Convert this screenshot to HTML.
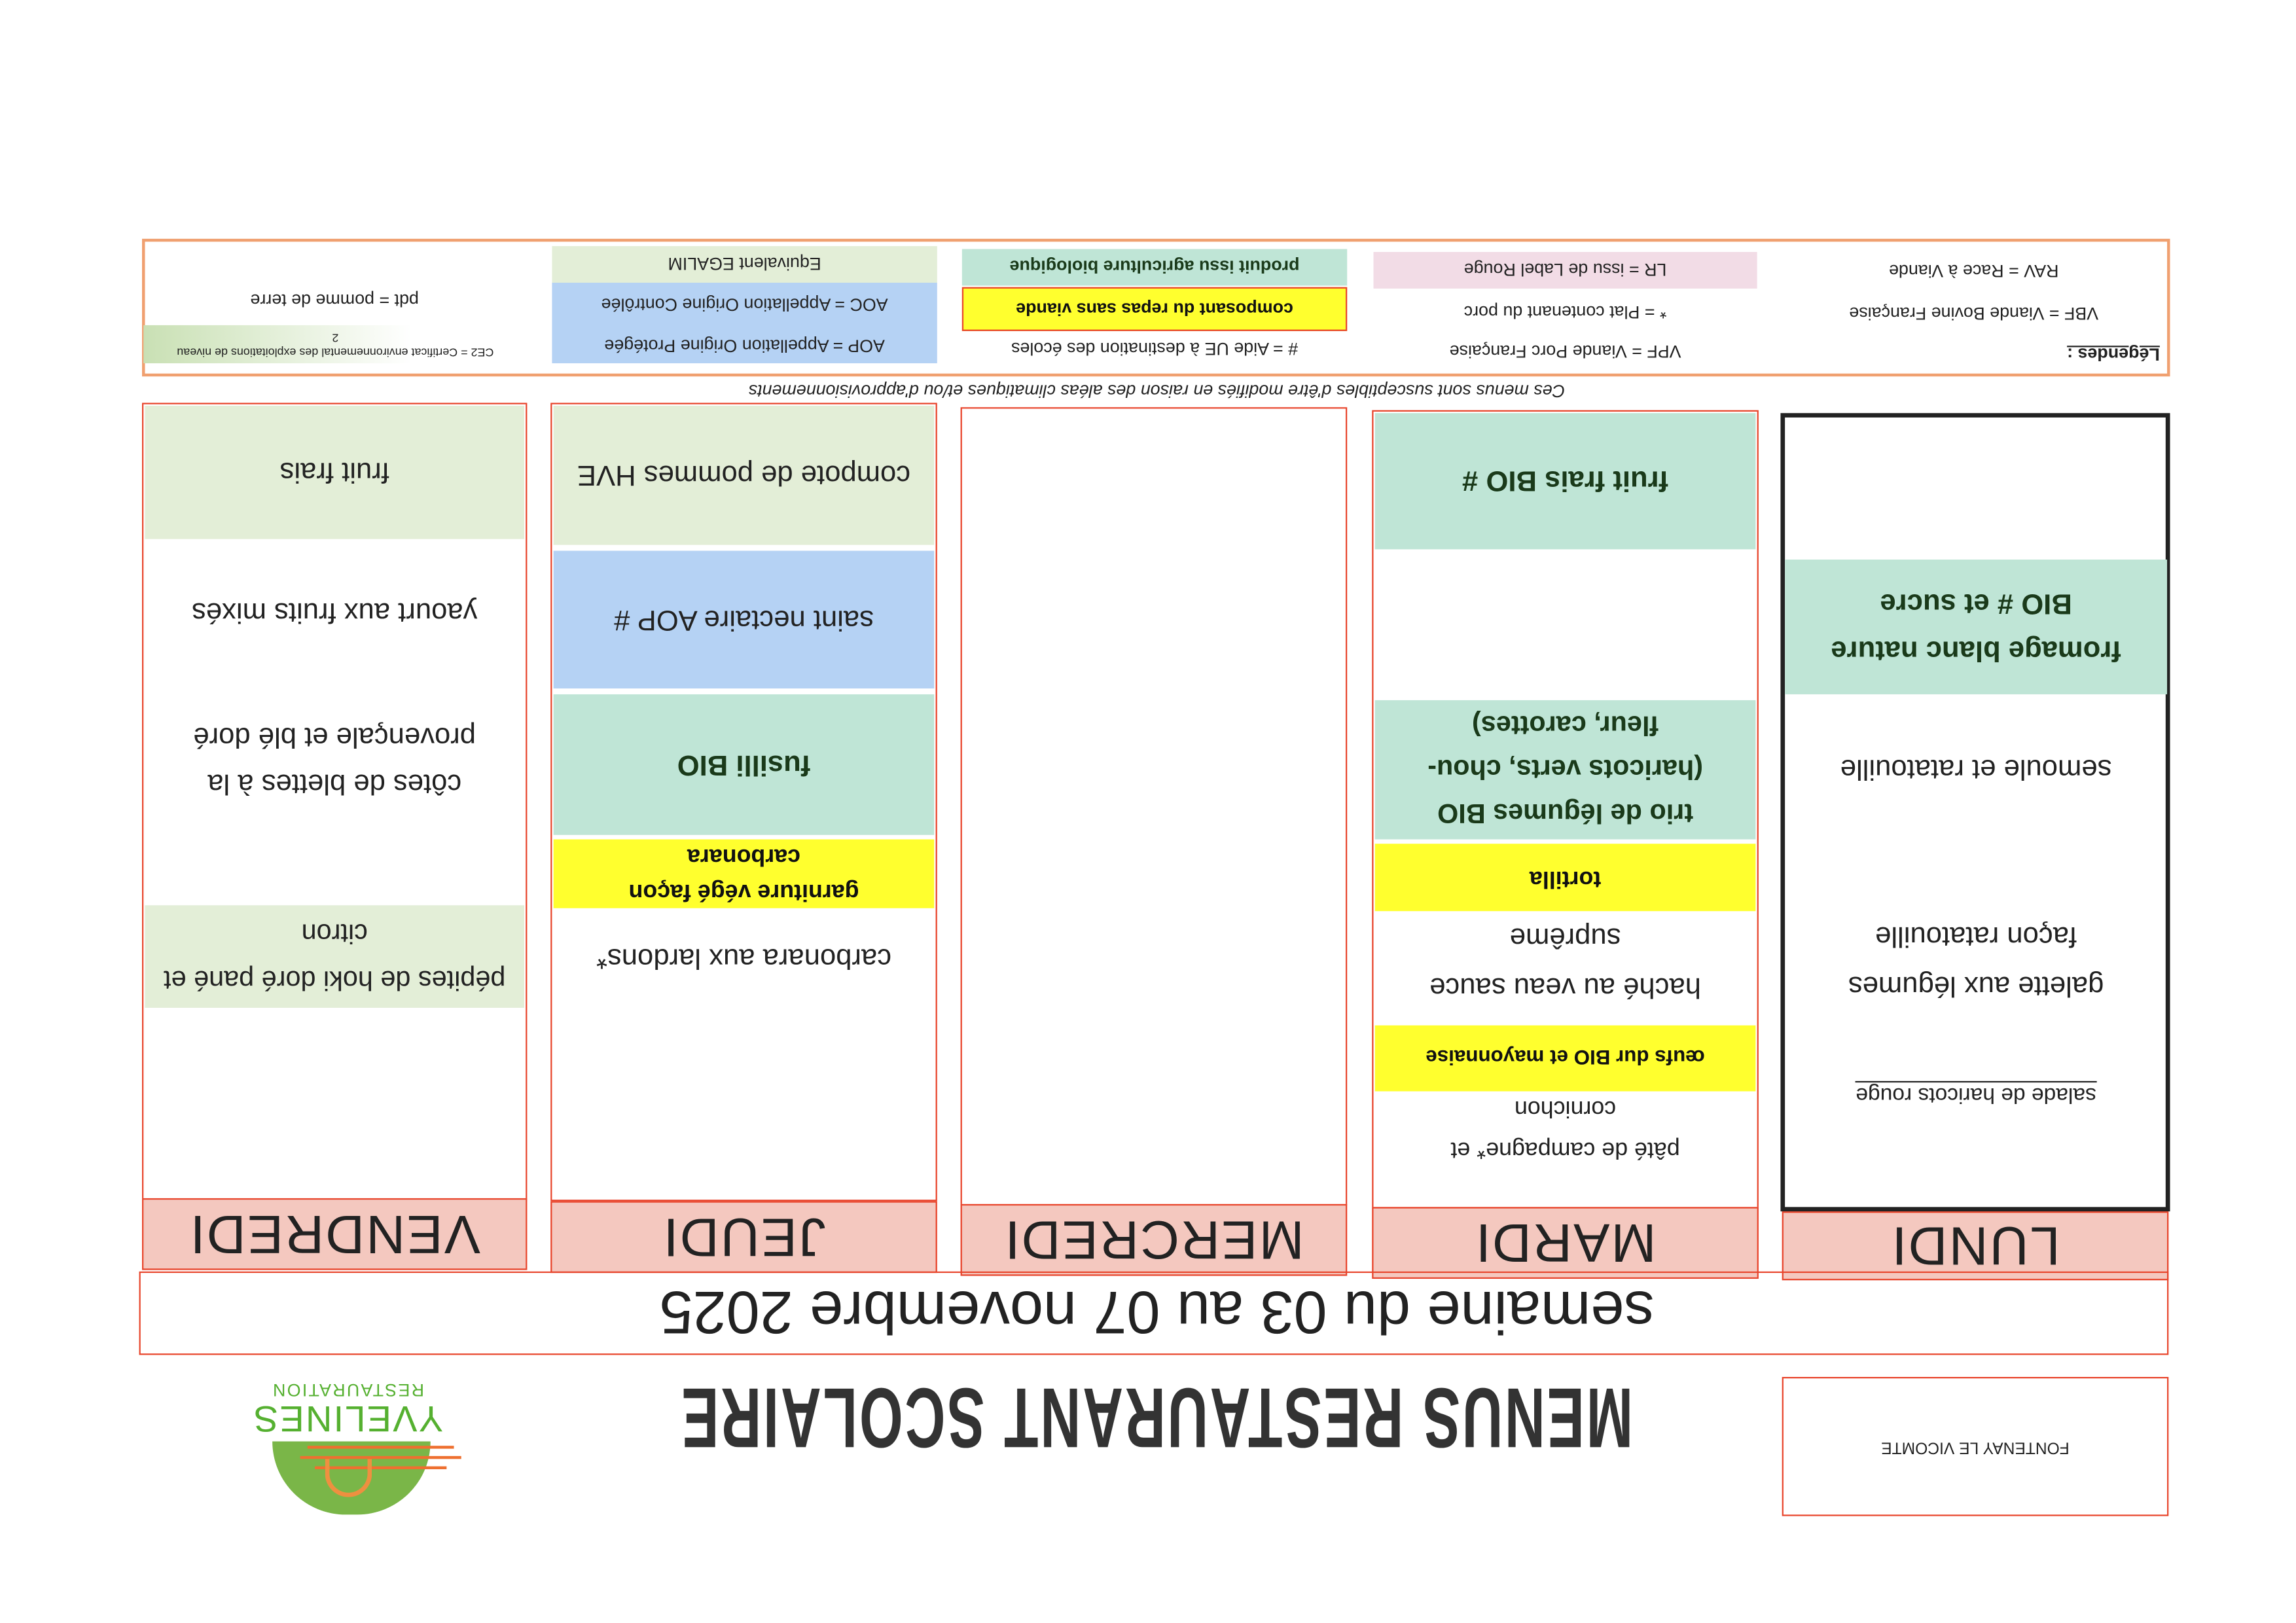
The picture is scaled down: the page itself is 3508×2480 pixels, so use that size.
<!DOCTYPE html>
<html><head><meta charset="utf-8"><style>
html,body{margin:0;padding:0;background:#fff;}
body{width:3508px;height:2480px;overflow:hidden;position:relative;}
#c{position:absolute;left:0;top:0;width:1568px;height:1108px;transform-origin:0 0;transform:scale(2.2372,2.2383);font-family:"Liberation Sans",sans-serif;color:#222;}
.b{position:absolute;box-sizing:border-box;display:flex;align-items:center;justify-content:center;text-align:center;transform:rotate(180deg);}
.f{position:absolute;box-sizing:border-box;}
.m{font-size:19.5px;line-height:32px;}
.bd{font-weight:bold;color:#1a3a1a;}
.l{font-size:12px;}
.col{border:1.5px solid #e8452c;}
.hd{background:#f4c8bf;border:1.5px solid #e8452c;font-size:37px;color:#222;letter-spacing:1px;}
.g{background:#e3eed7;}
.t{background:#bfe5d6;}
.bl{background:#b5d2f4;}
.y{background:#ffff2e;}
</style></head><body><div id="c">

<!-- legend -->
<div class="f" style="left:97px;top:163px;width:1385px;height:94px;border:2px solid #f0a070;"></div>
<div class="b l" style="left:1217px;top:232px;width:262px;height:20px;justify-content:flex-start;padding-left:4px;font-weight:bold;text-decoration:underline;">Légendes :</div>
<div class="b l" style="left:1217px;top:204px;width:262px;height:20px;">VBF = Viande Bovine Française</div>
<div class="b l" style="left:1217px;top:175px;width:262px;height:20px;">RAV = Race à Viande</div>
<div class="b l" style="left:938px;top:172px;width:262px;height:25px;background:#f2dce6;">LR = issu de Label Rouge</div>
<div class="b l" style="left:938px;top:203px;width:262px;height:20px;">* = Plat contenant du porc</div>
<div class="b l" style="left:938px;top:230px;width:262px;height:20px;">VPF = Viande Porc Française</div>
<div class="b l bd" style="left:657px;top:170px;width:263px;height:25px;" ><span style="position:absolute;inset:0;background:#bfe5d6;"></span><span style="position:relative">produit issu agriculture biologique</span></div>
<div class="b l bd" style="left:657px;top:196px;width:263px;height:30px;background:#ffff2e;border:1px solid #e8452c;color:#111;">composant du repas sans viande</div>
<div class="b l" style="left:657px;top:228px;width:263px;height:20px;">#  = Aide UE à destination des écoles</div>
<div class="b l" style="left:377px;top:168px;width:263px;height:25px;background:#e3eed7;">Equivalent EGALIM</div>
<div class="f" style="left:377px;top:193px;width:263px;height:55px;background:#b5d2f4;"></div>
<div class="b l" style="left:377px;top:197px;width:263px;height:22px;">AOC = Appellation Origine Contrôlée</div>
<div class="b l" style="left:377px;top:225px;width:263px;height:22px;">AOP = Appellation Origine Protégée</div>
<div class="b l" style="left:97px;top:195px;width:263px;height:20px;">pdt = pomme de terre</div>
<div class="b" style="left:98px;top:222px;width:262px;height:26px;background:linear-gradient(to left,#c9e0b4,#fff 70%);font-size:8px;line-height:10px;">CE2 = Certificat environnemental des exploitations de niveau<br>2</div>
<div class="b" style="left:400px;top:258px;width:780px;height:18px;font-size:12px;font-style:italic;">Ces menus sont susceptibles d'être modifiés en raison des aléas climatiques et/ou d'approvisionnements</div>

<!-- columns -->
<div class="f col" style="left:97px;top:275px;width:263px;height:545px;"></div>
<div class="f col" style="left:376px;top:275px;width:264px;height:545px;"></div>
<div class="f col" style="left:656px;top:278px;width:264px;height:545px;"></div>
<div class="f col" style="left:937px;top:280px;width:264px;height:545px;"></div>
<div class="f" style="left:1216px;top:282px;width:266px;height:545px;border:3px solid #222;"></div>

<!-- vendredi -->
<div class="b m g" style="left:99px;top:277px;width:259px;height:91px;">fruit frais</div>
<div class="b m" style="left:99px;top:400px;width:259px;height:36px;">yaourt aux fruits mixés</div>
<div class="b m" style="left:99px;top:485px;width:259px;height:68px;">côtes de blettes à la<br>provençale et blé doré</div>
<div class="b m g" style="left:99px;top:618px;width:259px;height:70px;font-size:18.5px;">pépites de hoki doré pané et<br>citron</div>
<!-- jeudi -->
<div class="b m g" style="left:378px;top:277px;width:260px;height:95px;">compote de pommes HVE</div>
<div class="b m bl" style="left:378px;top:376px;width:260px;height:94px;">saint nectaire AOP #</div>
<div class="b m t bd" style="left:378px;top:474px;width:260px;height:96px;">fusilli BIO</div>
<div class="b y bd" style="left:378px;top:573px;width:260px;height:47px;font-size:16px;line-height:24px;color:#111;">garniture végé façon<br>carbonara</div>
<div class="b m" style="left:378px;top:638px;width:260px;height:32px;">carbonara aux lardons*</div>
<!-- mardi -->
<div class="b m t bd" style="left:939px;top:282px;width:260px;height:93px;">fruit frais BIO #</div>
<div class="b t bd" style="left:939px;top:478px;width:260px;height:95px;font-size:18.5px;line-height:30px;">trio de légumes BIO<br>(haricots verts, chou-<br>fleur, carottes)</div>
<div class="b y bd" style="left:939px;top:576px;width:260px;height:46px;font-size:16px;color:#111;">tortilla</div>
<div class="b m" style="left:939px;top:624px;width:260px;height:66px;line-height:34px;">haché au veau sauce<br>suprême</div>
<div class="b y bd" style="left:939px;top:700px;width:260px;height:45px;font-size:14px;color:#111;">œufs dur BIO et mayonnaise</div>
<div class="b" style="left:939px;top:742px;width:260px;height:56px;font-size:16px;line-height:28px;">pâté de campagne* et<br>cornichon</div>
<!-- lundi -->
<div class="b t bd" style="left:1219px;top:382px;width:261px;height:92px;font-size:19.5px;line-height:32px;">fromage blanc nature<br>BIO # et sucre</div>
<div class="b m" style="left:1219px;top:508px;width:261px;height:34px;">semoule et ratatouille</div>
<div class="b m" style="left:1219px;top:623px;width:261px;height:66px;line-height:34px;">galette aux légumes<br>façon ratatouille</div>
<div class="b" style="left:1219px;top:736px;width:261px;height:22px;font-size:15px;"><span style="border-bottom:1px solid #222;">salade de haricots rouge</span></div>

<!-- headers -->
<div class="b hd" style="left:97px;top:818px;width:263px;height:49px;">VENDREDI</div>
<div class="b hd" style="left:376px;top:820px;width:264px;height:49px;">JEUDI</div>
<div class="b hd" style="left:656px;top:822px;width:264px;height:49px;">MERCREDI</div>
<div class="b hd" style="left:937px;top:824px;width:264px;height:49px;">MARDI</div>
<div class="b hd" style="left:1217px;top:827px;width:264px;height:47px;">LUNDI</div>

<!-- title band -->
<div class="f" style="left:95px;top:868px;width:1386px;height:57px;border:1.5px solid #e8452c;"></div>
<div class="b" style="left:300px;top:870px;width:980px;height:52px;font-size:41px;">semaine du 03 au 07 novembre 2025</div>
<div class="b" style="left:380px;top:940px;width:820px;height:56px;"><span style="display:inline-block;font-size:58px;font-weight:bold;transform:scaleX(0.66);white-space:nowrap;color:#333;letter-spacing:2px;">MENUS RESTAURANT SCOLAIRE</span></div>

<div class="f" style="left:1217px;top:940px;width:264px;height:95px;border:1.5px solid #e8452c;"></div>
<div class="b" style="left:1217px;top:978px;width:264px;height:20px;font-size:11px;">FONTENAY LE VICOMTE</div>

<!-- logo -->
<div class="b" style="left:180px;top:942px;width:115px;height:40px;color:#55b030;flex-direction:column;line-height:1;">
  <div style="font-size:25px;letter-spacing:1px;">YVELINES</div>
  <div style="font-size:12px;letter-spacing:1px;">RESTAURATION</div>
</div>
<div class="f" style="left:186px;top:984px;width:108px;height:50px;background:#7ab648;border-radius:0 0 54px 54px;"></div>
<div class="f" style="left:205px;top:994px;width:110px;height:2px;background:#ee7030;"></div>
<div class="f" style="left:215px;top:1001px;width:90px;height:2px;background:#ee7030;"></div>
<div class="f" style="left:210px;top:987px;width:100px;height:2px;background:#ee7030;"></div>
<div class="f" style="left:222px;top:996px;width:32px;height:26px;border:3px solid #ee9040;border-top:none;border-radius:0 0 18px 18px;"></div>

</div></body></html>
